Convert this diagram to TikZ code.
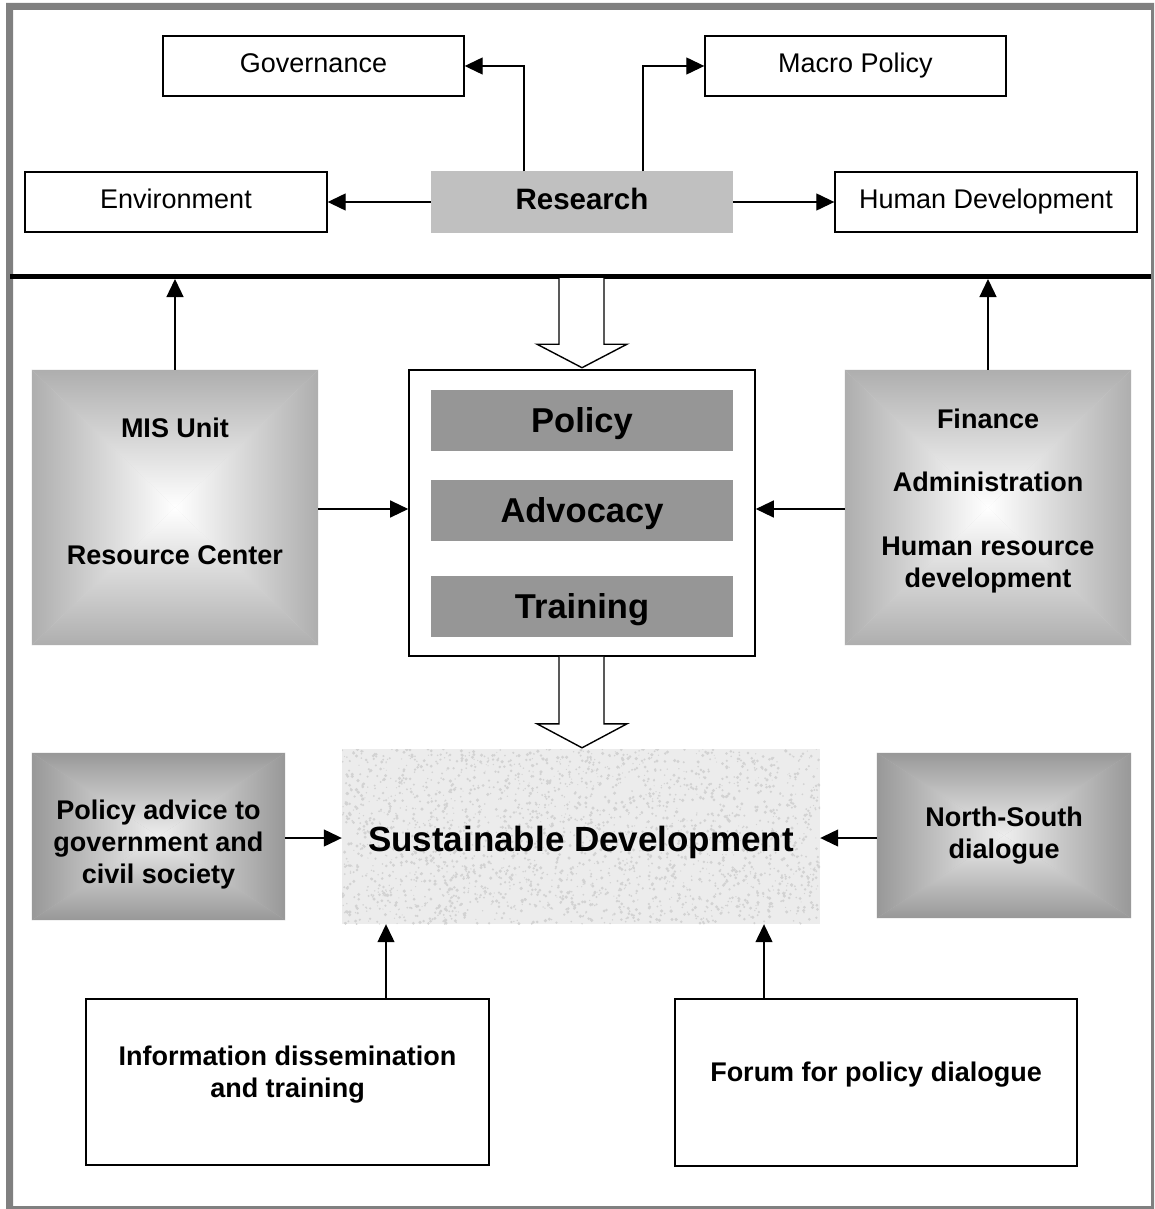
\documentclass[tikz,border=0pt]{standalone}
\usepackage{fontspec}
\setmainfont{Liberation Sans}
\usetikzlibrary{arrows.meta,calc}
\definecolor{framegray}{RGB}{128,128,128}
\definecolor{resgray}{RGB}{192,192,192}
\definecolor{dkgray}{RGB}{150,150,150}
\definecolor{edgeA}{RGB}{174,174,174}
\definecolor{midA}{RGB}{215,215,215}
\definecolor{edgeB}{RGB}{152,152,152}
\definecolor{midB}{RGB}{192,192,192}
\definecolor{centB}{RGB}{238,238,238}
\definecolor{sdbase}{RGB}{236,236,236}
\definecolor{sddot}{RGB}{210,210,210}
\tikzset{
  plainbox/.style={draw, line width=1.4pt, fill=white, inner sep=0pt, align=center, font=\fontsize{27}{32}\selectfont, text height=19.5pt, text depth=5.7pt},
  fillbox/.style={inner sep=0pt, align=center},
  btxt/.style={font=\fontsize{27}{32}\selectfont\bfseries, align=center, inner sep=0pt},
  bigtxt/.style={font=\fontsize{34.5}{40}\selectfont\bfseries, align=center, inner sep=0pt, text height=24.7pt, text depth=0pt},
  arr/.style={line width=1.3pt, -{Triangle[length=18pt,width=17pt]}},
  hollow/.style={draw, line width=1.4pt, fill=white, line join=miter},
}
\newcommand{\pyrshade}[4]{%
  \fill[#3] (#1.north west) rectangle (#1.south east);
  \shade[top color=#2, middle color=#3, bottom color=#4] (#1.north west) -- (#1.north east) -- (#1.center) -- cycle;
  \shade[top color=#4, middle color=#3, bottom color=#2] (#1.south west) -- (#1.south east) -- (#1.center) -- cycle;
  \shade[left color=#2, middle color=#3, right color=#4] (#1.north west) -- (#1.south west) -- (#1.center) -- cycle;
  \shade[left color=#4, middle color=#3, right color=#2] (#1.north east) -- (#1.south east) -- (#1.center) -- cycle;
}
\begin{document}
\begin{tikzpicture}[x=1pt,y=-1pt]
\useasboundingbox (0,0) rectangle (1154,1209);
\fill[white] (0,0) rectangle (1154,1209);
% frame
\fill[framegray, even odd rule] (6,3) rectangle (1154,1209) (13,10) rectangle (1151,1206);
% thick separator
\coordinate (hlL) at (10,276.5);
\coordinate (hlR) at (1151,276.5);
\coordinate (hlB) at (582,279);
\draw[line width=5pt] (hlL) -- (hlR);

% top row
\node[plainbox, minimum width=301pt, minimum height=60pt] (gov) at (313.5,66) {Governance};
\node[plainbox, minimum width=301pt, minimum height=60pt] (macro) at (855.5,66) {Macro Policy};
\node[plainbox, minimum width=302pt, minimum height=60pt] (env) at (176,202) {Environment};
\node[fillbox, fill=resgray, minimum width=302pt, minimum height=61pt, font=\fontsize{29.5}{34}\selectfont\bfseries, text height=21.3pt, text depth=6.2pt] (res) at (582,202) {Research};
\node[plainbox, minimum width=302pt, minimum height=60pt] (hd) at (986,202) {Human Development};

\draw[arr] (res.west) -- (env.east);
\draw[arr] (res.east) -- (hd.west);
\draw[arr] ([xshift=-58pt]res.north) |- (gov.east);
\draw[arr] ([xshift=61pt]res.north) |- (macro.west);

% middle row
\node[fillbox, minimum width=286pt, minimum height=275pt] (mis) at (175,507.5) {};
\pyrshade{mis}{edgeA}{midA}{white}
\node[btxt] (misA) at (175,428) {MIS Unit};
\node[btxt] (misB) at (175,555) {Resource Center};

\node[fillbox, minimum width=286pt, minimum height=275pt] (fin) at (988,507.5) {};
\pyrshade{fin}{edgeA}{midA}{white}
\node[btxt] (finA) at (988,419) {Finance};
\node[btxt] (finB) at (988,482) {Administration};
\node[btxt] (finC) at (988,565) {Human resource\\development};

\node[draw, line width=1.6pt, fill=white, minimum width=346pt, minimum height=286pt, inner sep=0pt] (cbox) at (582,513) {};
\node[fillbox, fill=dkgray, minimum width=302pt, minimum height=61pt] (pol) at (582,420.5) {};
\node[bigtxt] (polT) at (pol.center) {Policy};
\node[fillbox, fill=dkgray, minimum width=302pt, minimum height=61pt] (adv) at (582,510.5) {};
\node[bigtxt] (advT) at (adv.center) {Advocacy};
\node[fillbox, fill=dkgray, minimum width=302pt, minimum height=61pt] (tra) at (582,606.5) {};
\node[bigtxt] (traT) at (tra.center) {Training};

\coordinate (misOut) at (318,509);
\coordinate (finOut) at (845,509);
\draw[arr] (mis.north) -- (mis.north |- hlB);
\draw[arr] (fin.north) -- (fin.north |- hlB);
\draw[arr] (misOut) -- (misOut -| cbox.west);
\draw[arr] (finOut) -- (finOut -| cbox.east);

% hollow arrows
\draw[hollow] ($(cbox.north)+(-23,-91)$) -- ($(cbox.north)+(-23,-25)$) -- ($(cbox.north)+(-45,-25)$) -- ($(cbox.north)+(0,-1.5)$) -- ($(cbox.north)+(45,-25)$) -- ($(cbox.north)+(22,-25)$) -- ($(cbox.north)+(22,-91)$);

% sustainable development texture
\fill[sdbase] (342,749) rectangle (820,924);
\begin{scope}
\clip (342,749) rectangle (820,924);
\pgfmathsetseed{12345}
\foreach \i in {1,...,2600} {
  \fill[sddot] ({342+478*rnd},{749+175*rnd}) circle ({0.5+1.3*rnd});
}
\end{scope}
\node[fillbox, minimum width=478pt, minimum height=175pt] (sd) at (581,836.5) {};
\node[font=\fontsize{35}{40}\selectfont\bfseries, inner sep=0pt, text height=25pt, text depth=0pt] (sdT) at (581,839) {Sustainable Development};

\draw[hollow] ($(cbox.south)+(-23,0)$) -- ($(cbox.south)+(-23,67)$) -- ($(cbox.south)+(-45,67)$) -- ($(cbox.south)+(0,91)$) -- ($(cbox.south)+(45,67)$) -- ($(cbox.south)+(22,67)$) -- ($(cbox.south)+(22,0)$);

% lower side boxes
\node[fillbox, minimum width=253pt, minimum height=167pt] (pa) at (158.5,836.5) {};
\pyrshade{pa}{edgeB}{midB}{centB}
\node[btxt] (paT) at (158.5,845) {Policy advice to\\government and\\civil society};

\node[fillbox, minimum width=254pt, minimum height=165pt] (ns) at (1004,835.5) {};
\pyrshade{ns}{edgeB}{midB}{centB}
\node[btxt] (nsT) at (1004,836) {North-South\\dialogue};

\coordinate (paOut) at (285,838);
\coordinate (nsOut) at (877,838);
\draw[arr] (paOut) -- (paOut -| sd.west);
\draw[arr] (nsOut) -- (nsOut -| sd.east);

% bottom boxes
\node[plainbox, minimum width=403pt, minimum height=166pt] (info) at (287.5,1082) {};
\node[btxt] (infoT) at (287.5,1075) {Information dissemination\\and training};
\node[plainbox, minimum width=402pt, minimum height=167pt] (forum) at (876,1082.5) {};
\node[btxt] (forumT) at (876,1075) {Forum for policy dialogue};

\draw[arr] ([xshift=98.5pt]info.north) -- ([xshift=98.5pt]info.north |- sd.south);
\draw[arr] ([xshift=-112pt]forum.north) -- ([xshift=-112pt]forum.north |- sd.south);
\end{tikzpicture}
\end{document}
